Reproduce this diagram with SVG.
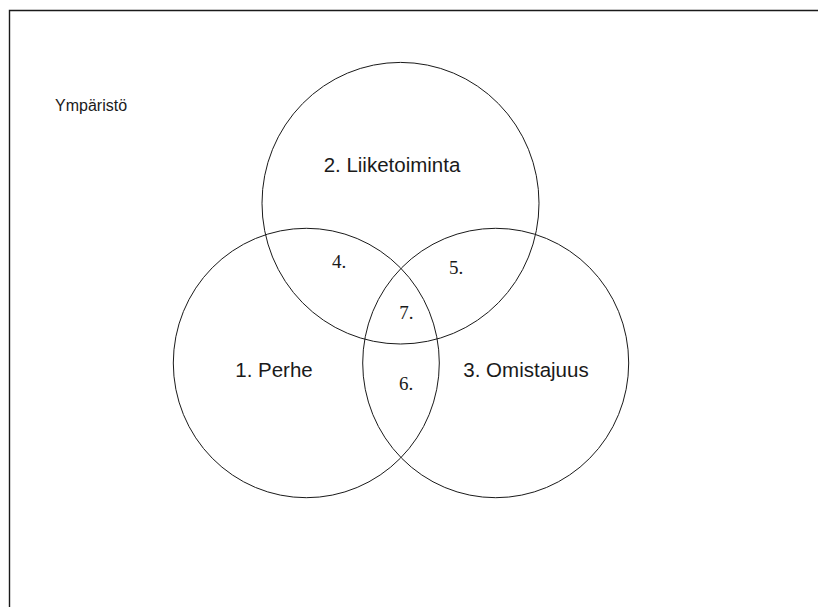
<svg xmlns="http://www.w3.org/2000/svg" width="818" height="607" viewBox="0 0 818 607">
  <style>
    .ring { fill: none; stroke: #1a1a1a; stroke-width: 1; }
    .frame { fill: none; stroke: #1a1a1a; stroke-width: 1.4; }
    .label { font-family: "Liberation Sans", Arial, sans-serif; font-size: 20.5px; fill: #1a1a1a; text-anchor: middle; }
    .num { font-family: "Liberation Serif", "Times New Roman", serif; font-size: 19px; fill: #1a1a1a; }
    .env { font-family: "Liberation Sans", Arial, sans-serif; font-size: 16px; fill: #1a1a1a; }
  </style>
  <rect width="818" height="607" fill="#ffffff"/>
  <!-- open frame: top and left edges only -->
  <path class="frame" d="M9.5 607 V10.5 H818"/>
  <text class="env" x="55" y="111">Ympäristö</text>

  <g id="liiketoiminta">
    <ellipse class="ring" cx="400.5" cy="203.2" rx="138.5" ry="140.8"/>
    <text class="label" x="392" y="171.5">2. Liiketoiminta</text>
  </g>
  <g id="perhe">
    <ellipse class="ring" cx="306.3" cy="363" rx="133" ry="134.7"/>
    <text class="label" x="274" y="376.5">1. Perhe</text>
  </g>
  <g id="omistajuus">
    <ellipse class="ring" cx="495.7" cy="363" rx="133" ry="134.7"/>
    <text class="label" x="526" y="376.5">3. Omistajuus</text>
  </g>

  <!-- overlap region numbers -->
  <g id="overlaps">
    <text class="num" x="332" y="268.3">4.</text>
    <text class="num" x="449" y="274.3">5.</text>
    <text class="num" x="399" y="389.5">6.</text>
    <text class="num" x="399.3" y="319">7.</text>
  </g>
</svg>
